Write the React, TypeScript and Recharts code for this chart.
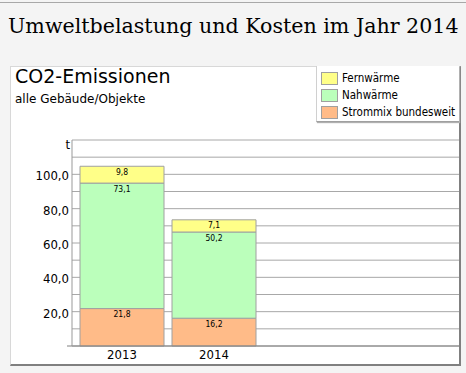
import React from "react";
import { BarChart, Bar, XAxis, YAxis, CartesianGrid, LabelList } from "recharts";

const categories = ["2013", "2014"];
const strommix = [21.8, 16.2];
const nahwaerme = [73.1, 50.2];
const fernwaerme = [9.8, 7.1];
const yTicks = [0, 10, 20, 30, 40, 50, 60, 70, 80, 90, 100, 110, 120];
const unitLabel = "t";
const pageTitle = "Umweltbelastung und Kosten im Jahr 2014";
const chartTitle = "CO2-Emissionen";
const chartSubtitle = "alle Gebäude/Objekte";

const series = [
  { key: "strommix", name: "Strommix bundesweit", color: "#ffbb88", values: strommix },
  { key: "nahwaerme", name: "Nahwärme", color: "#bbffbb", values: nahwaerme },
  { key: "fernwaerme", name: "Fernwärme", color: "#ffff88", values: fernwaerme },
];

const data = categories.map((c, i) => {
  const row: any = { year: c };
  series.forEach((s) => (row[s.key] = s.values[i]));
  return row;
});

const SANS = "'DejaVu Sans', sans-serif";
const COND = "'DejaVu Sans Condensed', 'DejaVu Sans', sans-serif";

const fmt = (v: number) => v.toFixed(1).replace(".", ",");

const BarLabel = (props: any) => {
  const { x, y, width, value } = props;
  return (
    <text
      x={Number(x) + Number(width) / 2}
      y={Number(y) + 8.5}
      textAnchor="middle"
      fontSize={8.5}
      fontFamily={COND}
      fill="#000"
    >
      {fmt(Number(value))}
    </text>
  );
};

const YTick = (props: any) => {
  const { x, y, payload } = props;
  const v = payload.value;
  let label = "";
  if (v === 120) label = unitLabel;
  else if (v > 0 && v % 20 === 0) label = fmt(v);
  return (
    <g>
      {v === 0 && <line x1={x - 2} x2={x + 3} y1={y} y2={y} stroke="#808080" />}
      <text
        x={v === 120 ? x + 1 : x}
        y={y + (v === 120 ? 9 : 6)}
        textAnchor="end"
        fontSize={13}
        fontFamily={COND}
        fill="#000"
      >
        {label}
      </text>
    </g>
  );
};

const legendOrder = [...series].reverse();

export default function App() {
  return (
    <div
      style={{
        position: "absolute",
        left: 0,
        top: 0,
        width: 466,
        height: 373,
        background: "#f4f4f4",
        overflow: "hidden",
      }}
    >
      <div style={{ position: "absolute", left: 0, top: 2, width: 466, height: 1, background: "#a8a8a8" }} />
      <svg width={466} height={60} style={{ position: "absolute", left: 0, top: 0 }}>
        <text x={8} y={33} fontFamily="'DejaVu Serif', serif" fontSize={20.6} fill="#000">
          {pageTitle}
        </text>
      </svg>
      <div
        style={{
          position: "absolute",
          left: 10,
          top: 66,
          width: 451,
          height: 300,
          boxSizing: "border-box",
          background: "#fff",
          borderTop: "1px solid #d8d8d8",
          borderLeft: "1px solid #d8d8d8",
          borderRight: "2px solid #808080",
          borderBottom: "2px solid #808080",
        }}
      />
      <svg width={466} height={120} style={{ position: "absolute", left: 0, top: 0 }}>
        <text x={15} y={83} fontFamily={SANS} fontSize={19} fill="#000">
          {chartTitle}
        </text>
        <text x={15} y={103} fontFamily={SANS} fontSize={12} fill="#000">
          {chartSubtitle}
        </text>
      </svg>
      <div style={{ position: "absolute", left: 0, top: 0 }}>
        <BarChart
          width={466}
          height={373}
          data={data}
          margin={{ top: 140, right: 7, bottom: 7, left: 12 }}
          barCategoryGap={4}
        >
          <CartesianGrid horizontal vertical={false} stroke="#a8a8a8" />
          <XAxis
            dataKey="year"
            height={20}
            padding={{ left: 4, right: 199 }}
            axisLine={{ stroke: "#808080" }}
            tickLine={false}
            tickSize={0}
            tickMargin={4}
            tick={{ fontSize: 13, fontFamily: COND, fill: "#000" }}
          />
          <YAxis
            width={60}
            domain={[0, 120]}
            ticks={yTicks}
            interval={0}
            axisLine={{ stroke: "#999" }}
            tickLine={false}
            tickSize={0}
            tickMargin={3}
            tick={<YTick />}
          />
          {series.map((s) => (
            <Bar
              key={s.key}
              dataKey={s.key}
              name={s.name}
              stackId="a"
              fill={s.color}
              stroke="#a0a0a0"
              strokeWidth={1}
              isAnimationActive={false}
            >
              <LabelList dataKey={s.key} content={<BarLabel />} />
            </Bar>
          ))}
        </BarChart>
      </div>
      <div
        style={{
          position: "absolute",
          left: 316,
          top: 66,
          width: 143,
          height: 56,
          boxSizing: "border-box",
          background: "#fff",
          borderLeft: "1px solid #d0d0d0",
          borderBottom: "1px solid #a0a0a0",
          boxShadow: "1px 1px 1px #b0b0b0",
        }}
      >
        {legendOrder.map((s, i) => (
          <div
            key={s.key}
            style={{ position: "absolute", left: 4, top: 5 + i * 17, height: 14, display: "flex", alignItems: "center" }}
          >
            <div
              style={{
                width: 17,
                height: 13,
                boxSizing: "border-box",
                background: s.color,
                border: "1px solid #a0a0a0",
              }}
            />
            <span
              style={{
                marginLeft: 4,
                fontFamily: COND,
                fontSize: 11.5,
                color: "#000",
                whiteSpace: "nowrap",
                lineHeight: "14px",
              }}
            >
              {s.name}
            </span>
          </div>
        ))}
      </div>
    </div>
  );
}
